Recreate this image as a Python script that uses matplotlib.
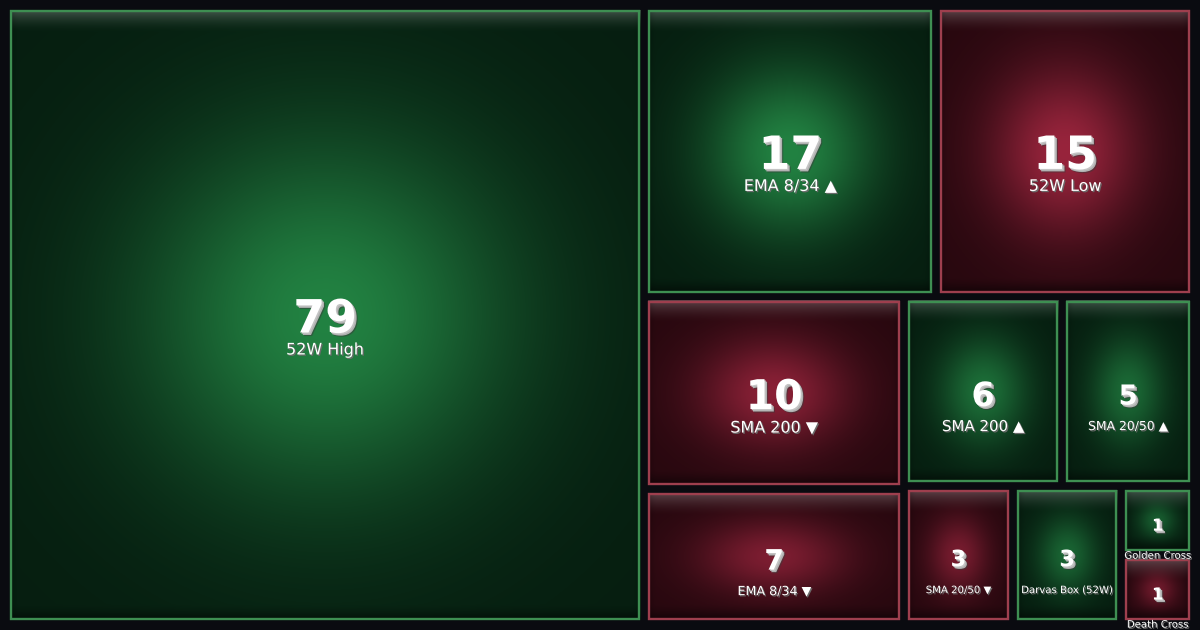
import numpy as np
import matplotlib
matplotlib.use("Agg")
import matplotlib.pyplot as plt
import matplotlib.patheffects as pe
from matplotlib.patches import Rectangle

# ---------------- data ----------------
labels = ["52W High", "EMA 8/34 ▲", "52W Low", "SMA 200 ▼", "EMA 8/34 ▼",
          "SMA 200 ▲", "SMA 20/50 ▲", "SMA 20/50 ▼", "Darvas Box (52W)",
          "Golden Cross", "Death Cross"]
counts = [79, 17, 15, 10, 7, 6, 5, 3, 3, 1, 1]
direction = ["up", "up", "down", "down", "down", "up", "up", "down", "up", "up", "down"]

# ---------------- style ----------------
W, H = 1200, 630
BG = "#0a0b10"
PAL = {
    "up":   dict(edge=np.array([6, 30, 16]) / 255, center=np.array([34, 130, 66]) / 255, border="#3e8f52"),
    "down": dict(edge=np.array([40, 8, 15]) / 255, center=np.array([152, 36, 60]) / 255, border="#9e3f4e"),
}


def worst(row, side):
    s = sum(row)
    return max(max(side * side * a / (s * s), s * s / (side * side * a)) for a in row)


def squarify(vals, x, y, w, h):
    total = float(sum(vals))
    areas = [v * w * h / total for v in vals]
    rects = []
    i = 0
    while i < len(areas):
        side = min(w, h)
        row = [areas[i]]
        j = i + 1
        while j < len(areas) and worst(row + [areas[j]], side) <= worst(row, side):
            row.append(areas[j])
            j += 1
        s = sum(row)
        if w >= h:
            cw = s / h
            yy = y
            for a in row:
                rh = a / cw
                rects.append((x, yy, cw, rh))
                yy += rh
            x += cw
            w -= cw
        else:
            rh = s / w
            xx = x
            for a in row:
                rw = a / rh
                rects.append((xx, y, rw, rh))
                xx += rw
            y += rh
            h -= rh
        i = j
    return rects


fig = plt.figure(figsize=(W / 100, H / 100), dpi=100, facecolor=BG)
ax = fig.add_axes([0, 0, 1, 1])
ax.set_facecolor(BG)
ax.set_xlim(0, W)
ax.set_ylim(H, 0)
ax.axis("off")

MARGIN = 6
PAD = 4
rects = squarify(counts, MARGIN, MARGIN, W - 2 * MARGIN, H - 2 * MARGIN)

for (x, y, w, h), lab, val, d in zip(rects, labels, counts, direction):
    x0, y0 = x + PAD, y + PAD
    tw, th = w - 2 * PAD, h - 2 * PAD
    pal = PAL[d]
    m = min(tw, th)
    nx, ny = max(int(round(tw)), 2), max(int(round(th)), 2)
    xs = np.arange(nx) + 0.5
    ys = np.arange(ny) + 0.5
    X, Y = np.meshgrid(xs, ys)
    t = np.sqrt(((X - tw / 2) / (tw / 2)) ** 2 + ((Y - th / 2) / (th / 2)) ** 2) / np.sqrt(2)
    amp = float(np.clip(0.5 + m / 500.0, 0.6, 1.0))
    f = amp * np.exp(-(t / 0.42) ** 2)
    img = pal["edge"][None, None, :] + (pal["center"] - pal["edge"])[None, None, :] * f[..., None]
    # top glossy highlight
    top = np.clip(1 - Y / 22.0, 0, 1) ** 1.6
    img = img + (1 - img) * (0.24 * top)[..., None]
    # bottom shade
    bot = np.clip(1 - (th - Y) / 16.0, 0, 1) ** 1.5
    img = img * (1 - 0.55 * bot)[..., None]
    # side shade
    side = np.clip(1 - np.minimum(X, tw - X) / 10.0, 0, 1) ** 2
    img = img * (1 - 0.25 * side)[..., None]
    img = np.clip(img, 0, 1)
    ax.imshow(img, extent=(x0, x0 + tw, y0 + th, y0), origin="upper",
              interpolation="bilinear", zorder=1, aspect="auto")
    ax.add_patch(Rectangle((x0 + 1, y0 + 1), tw - 2, th - 2, fill=False,
                           edgecolor=pal["border"], linewidth=1.7, zorder=2))

    nfs = float(np.clip(m * 0.16, 12, 33))
    lfs = float(np.clip(m * 0.072, 7.3, 11.5))
    cx, cy = x0 + tw / 2, y0 + th / 2
    ax.text(cx, cy + 5, str(val), ha="center", va="center", color="white",
            fontsize=nfs, fontweight="bold", family="DejaVu Sans", zorder=4,
            path_effects=[pe.SimplePatchShadow(offset=(2.6, -2.6), shadow_rgbFace="#3a3a3a", alpha=0.5),
                          pe.SimplePatchShadow(offset=(1.8, -1.8), shadow_rgbFace="#b0b0b0", alpha=1.0),
                          pe.SimplePatchShadow(offset=(0.9, -0.9), shadow_rgbFace="#c4c4c4", alpha=1.0),
                          pe.Normal()])
    ax.text(cx, cy + 35, lab, ha="center", va="center", color="white",
            fontsize=lfs, family="DejaVu Sans", zorder=4,
            path_effects=[pe.SimplePatchShadow(offset=(0.9, -0.9), shadow_rgbFace="#6a6a6a", alpha=1.0),
                          pe.Normal()])

fig.savefig("out.png", dpi=100, facecolor=BG)
